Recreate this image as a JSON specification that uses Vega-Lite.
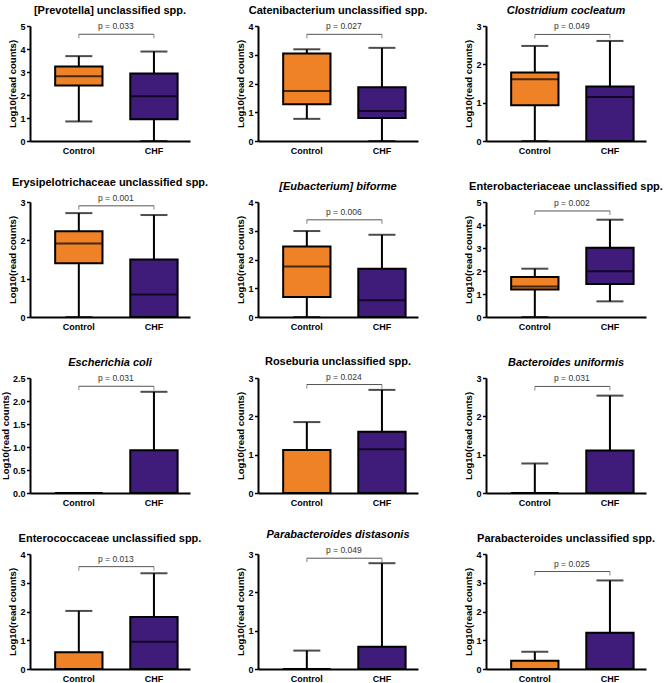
{
"$schema":"https://vega.github.io/schema/vega-lite/v6.json",
"background":"white",
"padding":{"left":0,"top":5,"right":0,"bottom":2},
"datasets":{
"s":[
{"panel":"P1","group":"Control","lo":0.85,"q1":2.41,"med":2.82,"q3":3.24,"hi":3.69},
{"panel":"P1","group":"CHF","lo":0,"q1":0.95,"med":1.95,"q3":2.94,"hi":3.89},
{"panel":"P2","group":"Control","lo":0.77,"q1":1.28,"med":1.74,"q3":3.04,"hi":3.19},
{"panel":"P2","group":"CHF","lo":0,"q1":0.8,"med":1.04,"q3":1.87,"hi":3.24},
{"panel":"P3","group":"Control","lo":0,"q1":0.93,"med":1.61,"q3":1.79,"hi":2.48},
{"panel":"P3","group":"CHF","lo":0,"q1":0,"med":1.15,"q3":1.42,"hi":2.61},
{"panel":"P4","group":"Control","lo":0,"q1":1.4,"med":1.92,"q3":2.24,"hi":2.71},
{"panel":"P4","group":"CHF","lo":0,"q1":0,"med":0.59,"q3":1.5,"hi":2.66},
{"panel":"P5","group":"Control","lo":0,"q1":0.7,"med":1.76,"q3":2.45,"hi":2.99},
{"panel":"P5","group":"CHF","lo":0,"q1":0,"med":0.58,"q3":1.68,"hi":2.86},
{"panel":"P6","group":"Control","lo":0,"q1":1.2,"med":1.33,"q3":1.74,"hi":2.1},
{"panel":"P6","group":"CHF","lo":0.68,"q1":1.43,"med":1.99,"q3":3.01,"hi":4.23},
{"panel":"P7","group":"Control","lo":0,"q1":0,"med":0,"q3":0,"hi":0},
{"panel":"P7","group":"CHF","lo":0,"q1":0,"med":0,"q3":0.93,"hi":2.2},
{"panel":"P8","group":"Control","lo":0,"q1":0,"med":0,"q3":1.12,"hi":1.85},
{"panel":"P8","group":"CHF","lo":0,"q1":0,"med":1.14,"q3":1.6,"hi":2.69},
{"panel":"P9","group":"Control","lo":0,"q1":0,"med":0,"q3":0,"hi":0.77},
{"panel":"P9","group":"CHF","lo":0,"q1":0,"med":0,"q3":1.11,"hi":2.54},
{"panel":"P10","group":"Control","lo":0,"q1":0,"med":0,"q3":0.58,"hi":2.02},
{"panel":"P10","group":"CHF","lo":0,"q1":0,"med":0.95,"q3":1.81,"hi":3.33},
{"panel":"P11","group":"Control","lo":0,"q1":0,"med":0,"q3":0,"hi":0.48},
{"panel":"P11","group":"CHF","lo":0,"q1":0,"med":0,"q3":0.58,"hi":2.76},
{"panel":"P12","group":"Control","lo":0,"q1":0,"med":0,"q3":0.29,"hi":0.6},
{"panel":"P12","group":"CHF","lo":0,"q1":0,"med":0,"q3":1.26,"hi":3.08}
],
"b":[
{"panel":"P1","p":"p = 0.033","y":4.64,"g1":"Control","g2":"CHF"},
{"panel":"P2","p":"p = 0.027","y":3.71,"g1":"Control","g2":"CHF"},
{"panel":"P3","p":"p = 0.049","y":2.78,"g1":"Control","g2":"CHF"},
{"panel":"P4","p":"p = 0.001","y":2.9,"g1":"Control","g2":"CHF"},
{"panel":"P5","p":"p = 0.006","y":3.38,"g1":"Control","g2":"CHF"},
{"panel":"P6","p":"p = 0.002","y":4.61,"g1":"Control","g2":"CHF"},
{"panel":"P7","p":"p = 0.031","y":2.32,"g1":"Control","g2":"CHF"},
{"panel":"P8","p":"p = 0.024","y":2.83,"g1":"Control","g2":"CHF"},
{"panel":"P9","p":"p = 0.031","y":2.78,"g1":"Control","g2":"CHF"},
{"panel":"P10","p":"p = 0.013","y":3.56,"g1":"Control","g2":"CHF"},
{"panel":"P11","p":"p = 0.049","y":2.89,"g1":"Control","g2":"CHF"},
{"panel":"P12","p":"p = 0.025","y":3.39,"g1":"Control","g2":"CHF"}
]
},
"columns":3,
"spacing":{"row":61,"column":68},
"bounds":"flush",
"resolve":{"scale":{"y":"independent","x":"independent"}},
"config":{
"font":"Liberation Sans",
"view":{"stroke":null},
"title":{"fontSize":11,"fontWeight":"bold","font":"Liberation Sans","color":"black","offset":6,"anchor":"middle"},
"axisY":{"domainColor":"black","domainWidth":2,"tickColor":"black","tickWidth":1.5,"tickSize":3.5,"labelFont":"Liberation Sans","labelFontWeight":"bold","labelFontSize":9,"labelColor":"black","labelOverlap":false,"titleFont":"Liberation Sans","titleFontSize":9.5,"titleFontWeight":"bold","titleColor":"black","titlePadding":2,"grid":false,"labelPadding":1.5},
"axisX":{"domainColor":"black","domainWidth":2,"ticks":false,"labelFont":"Liberation Sans","labelFontWeight":"bold","labelFontSize":9,"labelColor":"black","labelAngle":0,"labelPadding":5,"grid":false}
},
"concat":[
{"title":{"text":"[Prevotella] unclassified spp.","fontStyle":"normal"},"width":160,"height":115,"layer":[
{"data":{"name":"s"},"transform":[{"filter":"datum.panel=='P1'"}],"mark":{"type":"rule","color":"black","strokeWidth":2},"encoding":{"x":{"field":"group","type":"nominal","title":null,"scale":{"domain":["Control","CHF"],"paddingInner":0.37,"paddingOuter":0.25,"align":0.67}},"y":{"field":"lo","type":"quantitative","title":"Log10(read counts)","scale":{"domain":[0,5]},"axis":{"values":[0,1,2,3,4,5]}},"y2":{"field":"hi"}}},
{"data":{"name":"s"},"transform":[{"filter":"datum.panel=='P1'"},{"fold":["lo","hi"],"as":["k","v"]}],"mark":{"type":"tick","color":"black","thickness":2,"size":27},"encoding":{"x":{"field":"group","type":"nominal","title":null},"y":{"field":"v","type":"quantitative","title":"Log10(read counts)","scale":{"domain":[0,5]},"axis":{"values":[0,1,2,3,4,5]}}}},
{"data":{"name":"s"},"transform":[{"filter":"datum.panel=='P1'"}],"mark":{"type":"bar","stroke":"black","strokeWidth":2},"encoding":{"x":{"field":"group","type":"nominal","title":null},"y":{"field":"q1","type":"quantitative","title":"Log10(read counts)","scale":{"domain":[0,5]},"axis":{"values":[0,1,2,3,4,5]}},"y2":{"field":"q3"},"color":{"field":"group","type":"nominal","scale":{"domain":["Control","CHF"],"range":["#EF8227","#3F1B7A"]},"legend":null}}},
{"data":{"name":"s"},"transform":[{"filter":"datum.panel=='P1'"}],"mark":{"type":"tick","color":"black","thickness":2,"size":48},"encoding":{"x":{"field":"group","type":"nominal","title":null},"y":{"field":"med","type":"quantitative","title":"Log10(read counts)","scale":{"domain":[0,5]},"axis":{"values":[0,1,2,3,4,5]}}}},
{"data":{"name":"b"},"transform":[{"filter":"datum.panel=='P1'"}],"mark":{"type":"rule","color":"#555555","strokeWidth":1},"encoding":{"x":{"field":"g1","type":"nominal","title":null,"bandPosition":0.5},"x2":{"field":"g2","bandPosition":0.5},"y":{"field":"y","type":"quantitative","title":"Log10(read counts)","scale":{"domain":[0,5]},"axis":{"values":[0,1,2,3,4,5]}}}},
{"data":{"name":"b"},"transform":[{"filter":"datum.panel=='P1'"},{"fold":["g1","g2"],"as":["k","gx"]}],"mark":{"type":"tick","orient":"vertical","color":"#555555","thickness":1,"size":4,"yOffset":2},"encoding":{"x":{"field":"gx","type":"nominal","title":null},"y":{"field":"y","type":"quantitative","title":"Log10(read counts)","scale":{"domain":[0,5]},"axis":{"values":[0,1,2,3,4,5]}}}},
{"data":{"name":"b"},"transform":[{"filter":"datum.panel=='P1'"}],"mark":{"type":"text","fontSize":8.5,"color":"#333333","baseline":"bottom","dy":-3,"xOffset":37},"encoding":{"x":{"field":"g1","type":"nominal","title":null},"y":{"field":"y","type":"quantitative","title":"Log10(read counts)","scale":{"domain":[0,5]},"axis":{"values":[0,1,2,3,4,5]}},"text":{"field":"p"}}}
]},
{"title":{"text":"Catenibacterium unclassified spp.","fontStyle":"normal"},"width":160,"height":115,"layer":[
{"data":{"name":"s"},"transform":[{"filter":"datum.panel=='P2'"}],"mark":{"type":"rule","color":"black","strokeWidth":2},"encoding":{"x":{"field":"group","type":"nominal","title":null,"scale":{"domain":["Control","CHF"],"paddingInner":0.37,"paddingOuter":0.25,"align":0.67}},"y":{"field":"lo","type":"quantitative","title":"Log10(read counts)","scale":{"domain":[0,4]},"axis":{"values":[0,1,2,3,4]}},"y2":{"field":"hi"}}},
{"data":{"name":"s"},"transform":[{"filter":"datum.panel=='P2'"},{"fold":["lo","hi"],"as":["k","v"]}],"mark":{"type":"tick","color":"black","thickness":2,"size":27},"encoding":{"x":{"field":"group","type":"nominal","title":null},"y":{"field":"v","type":"quantitative","title":"Log10(read counts)","scale":{"domain":[0,4]},"axis":{"values":[0,1,2,3,4]}}}},
{"data":{"name":"s"},"transform":[{"filter":"datum.panel=='P2'"}],"mark":{"type":"bar","stroke":"black","strokeWidth":2},"encoding":{"x":{"field":"group","type":"nominal","title":null},"y":{"field":"q1","type":"quantitative","title":"Log10(read counts)","scale":{"domain":[0,4]},"axis":{"values":[0,1,2,3,4]}},"y2":{"field":"q3"},"color":{"field":"group","type":"nominal","scale":{"domain":["Control","CHF"],"range":["#EF8227","#3F1B7A"]},"legend":null}}},
{"data":{"name":"s"},"transform":[{"filter":"datum.panel=='P2'"}],"mark":{"type":"tick","color":"black","thickness":2,"size":48},"encoding":{"x":{"field":"group","type":"nominal","title":null},"y":{"field":"med","type":"quantitative","title":"Log10(read counts)","scale":{"domain":[0,4]},"axis":{"values":[0,1,2,3,4]}}}},
{"data":{"name":"b"},"transform":[{"filter":"datum.panel=='P2'"}],"mark":{"type":"rule","color":"#555555","strokeWidth":1},"encoding":{"x":{"field":"g1","type":"nominal","title":null,"bandPosition":0.5},"x2":{"field":"g2","bandPosition":0.5},"y":{"field":"y","type":"quantitative","title":"Log10(read counts)","scale":{"domain":[0,4]},"axis":{"values":[0,1,2,3,4]}}}},
{"data":{"name":"b"},"transform":[{"filter":"datum.panel=='P2'"},{"fold":["g1","g2"],"as":["k","gx"]}],"mark":{"type":"tick","orient":"vertical","color":"#555555","thickness":1,"size":4,"yOffset":2},"encoding":{"x":{"field":"gx","type":"nominal","title":null},"y":{"field":"y","type":"quantitative","title":"Log10(read counts)","scale":{"domain":[0,4]},"axis":{"values":[0,1,2,3,4]}}}},
{"data":{"name":"b"},"transform":[{"filter":"datum.panel=='P2'"}],"mark":{"type":"text","fontSize":8.5,"color":"#333333","baseline":"bottom","dy":-3,"xOffset":37},"encoding":{"x":{"field":"g1","type":"nominal","title":null},"y":{"field":"y","type":"quantitative","title":"Log10(read counts)","scale":{"domain":[0,4]},"axis":{"values":[0,1,2,3,4]}},"text":{"field":"p"}}}
]},
{"title":{"text":"Clostridium cocleatum","fontStyle":"italic"},"width":160,"height":115,"layer":[
{"data":{"name":"s"},"transform":[{"filter":"datum.panel=='P3'"}],"mark":{"type":"rule","color":"black","strokeWidth":2},"encoding":{"x":{"field":"group","type":"nominal","title":null,"scale":{"domain":["Control","CHF"],"paddingInner":0.37,"paddingOuter":0.25,"align":0.67}},"y":{"field":"lo","type":"quantitative","title":"Log10(read counts)","scale":{"domain":[0,3]},"axis":{"values":[0,1,2,3]}},"y2":{"field":"hi"}}},
{"data":{"name":"s"},"transform":[{"filter":"datum.panel=='P3'"},{"fold":["lo","hi"],"as":["k","v"]}],"mark":{"type":"tick","color":"black","thickness":2,"size":27},"encoding":{"x":{"field":"group","type":"nominal","title":null},"y":{"field":"v","type":"quantitative","title":"Log10(read counts)","scale":{"domain":[0,3]},"axis":{"values":[0,1,2,3]}}}},
{"data":{"name":"s"},"transform":[{"filter":"datum.panel=='P3'"}],"mark":{"type":"bar","stroke":"black","strokeWidth":2},"encoding":{"x":{"field":"group","type":"nominal","title":null},"y":{"field":"q1","type":"quantitative","title":"Log10(read counts)","scale":{"domain":[0,3]},"axis":{"values":[0,1,2,3]}},"y2":{"field":"q3"},"color":{"field":"group","type":"nominal","scale":{"domain":["Control","CHF"],"range":["#EF8227","#3F1B7A"]},"legend":null}}},
{"data":{"name":"s"},"transform":[{"filter":"datum.panel=='P3'"}],"mark":{"type":"tick","color":"black","thickness":2,"size":48},"encoding":{"x":{"field":"group","type":"nominal","title":null},"y":{"field":"med","type":"quantitative","title":"Log10(read counts)","scale":{"domain":[0,3]},"axis":{"values":[0,1,2,3]}}}},
{"data":{"name":"b"},"transform":[{"filter":"datum.panel=='P3'"}],"mark":{"type":"rule","color":"#555555","strokeWidth":1},"encoding":{"x":{"field":"g1","type":"nominal","title":null,"bandPosition":0.5},"x2":{"field":"g2","bandPosition":0.5},"y":{"field":"y","type":"quantitative","title":"Log10(read counts)","scale":{"domain":[0,3]},"axis":{"values":[0,1,2,3]}}}},
{"data":{"name":"b"},"transform":[{"filter":"datum.panel=='P3'"},{"fold":["g1","g2"],"as":["k","gx"]}],"mark":{"type":"tick","orient":"vertical","color":"#555555","thickness":1,"size":4,"yOffset":2},"encoding":{"x":{"field":"gx","type":"nominal","title":null},"y":{"field":"y","type":"quantitative","title":"Log10(read counts)","scale":{"domain":[0,3]},"axis":{"values":[0,1,2,3]}}}},
{"data":{"name":"b"},"transform":[{"filter":"datum.panel=='P3'"}],"mark":{"type":"text","fontSize":8.5,"color":"#333333","baseline":"bottom","dy":-3,"xOffset":37},"encoding":{"x":{"field":"g1","type":"nominal","title":null},"y":{"field":"y","type":"quantitative","title":"Log10(read counts)","scale":{"domain":[0,3]},"axis":{"values":[0,1,2,3]}},"text":{"field":"p"}}}
]},
{"title":{"text":"Erysipelotrichaceae unclassified spp.","fontStyle":"normal"},"width":160,"height":115,"layer":[
{"data":{"name":"s"},"transform":[{"filter":"datum.panel=='P4'"}],"mark":{"type":"rule","color":"black","strokeWidth":2},"encoding":{"x":{"field":"group","type":"nominal","title":null,"scale":{"domain":["Control","CHF"],"paddingInner":0.37,"paddingOuter":0.25,"align":0.67}},"y":{"field":"lo","type":"quantitative","title":"Log10(read counts)","scale":{"domain":[0,3]},"axis":{"values":[0,1,2,3]}},"y2":{"field":"hi"}}},
{"data":{"name":"s"},"transform":[{"filter":"datum.panel=='P4'"},{"fold":["lo","hi"],"as":["k","v"]}],"mark":{"type":"tick","color":"black","thickness":2,"size":27},"encoding":{"x":{"field":"group","type":"nominal","title":null},"y":{"field":"v","type":"quantitative","title":"Log10(read counts)","scale":{"domain":[0,3]},"axis":{"values":[0,1,2,3]}}}},
{"data":{"name":"s"},"transform":[{"filter":"datum.panel=='P4'"}],"mark":{"type":"bar","stroke":"black","strokeWidth":2},"encoding":{"x":{"field":"group","type":"nominal","title":null},"y":{"field":"q1","type":"quantitative","title":"Log10(read counts)","scale":{"domain":[0,3]},"axis":{"values":[0,1,2,3]}},"y2":{"field":"q3"},"color":{"field":"group","type":"nominal","scale":{"domain":["Control","CHF"],"range":["#EF8227","#3F1B7A"]},"legend":null}}},
{"data":{"name":"s"},"transform":[{"filter":"datum.panel=='P4'"}],"mark":{"type":"tick","color":"black","thickness":2,"size":48},"encoding":{"x":{"field":"group","type":"nominal","title":null},"y":{"field":"med","type":"quantitative","title":"Log10(read counts)","scale":{"domain":[0,3]},"axis":{"values":[0,1,2,3]}}}},
{"data":{"name":"b"},"transform":[{"filter":"datum.panel=='P4'"}],"mark":{"type":"rule","color":"#555555","strokeWidth":1},"encoding":{"x":{"field":"g1","type":"nominal","title":null,"bandPosition":0.5},"x2":{"field":"g2","bandPosition":0.5},"y":{"field":"y","type":"quantitative","title":"Log10(read counts)","scale":{"domain":[0,3]},"axis":{"values":[0,1,2,3]}}}},
{"data":{"name":"b"},"transform":[{"filter":"datum.panel=='P4'"},{"fold":["g1","g2"],"as":["k","gx"]}],"mark":{"type":"tick","orient":"vertical","color":"#555555","thickness":1,"size":4,"yOffset":2},"encoding":{"x":{"field":"gx","type":"nominal","title":null},"y":{"field":"y","type":"quantitative","title":"Log10(read counts)","scale":{"domain":[0,3]},"axis":{"values":[0,1,2,3]}}}},
{"data":{"name":"b"},"transform":[{"filter":"datum.panel=='P4'"}],"mark":{"type":"text","fontSize":8.5,"color":"#333333","baseline":"bottom","dy":-3,"xOffset":37},"encoding":{"x":{"field":"g1","type":"nominal","title":null},"y":{"field":"y","type":"quantitative","title":"Log10(read counts)","scale":{"domain":[0,3]},"axis":{"values":[0,1,2,3]}},"text":{"field":"p"}}}
]},
{"title":{"text":"[Eubacterium] biforme","fontStyle":"italic"},"width":160,"height":115,"layer":[
{"data":{"name":"s"},"transform":[{"filter":"datum.panel=='P5'"}],"mark":{"type":"rule","color":"black","strokeWidth":2},"encoding":{"x":{"field":"group","type":"nominal","title":null,"scale":{"domain":["Control","CHF"],"paddingInner":0.37,"paddingOuter":0.25,"align":0.67}},"y":{"field":"lo","type":"quantitative","title":"Log10(read counts)","scale":{"domain":[0,4]},"axis":{"values":[0,1,2,3,4]}},"y2":{"field":"hi"}}},
{"data":{"name":"s"},"transform":[{"filter":"datum.panel=='P5'"},{"fold":["lo","hi"],"as":["k","v"]}],"mark":{"type":"tick","color":"black","thickness":2,"size":27},"encoding":{"x":{"field":"group","type":"nominal","title":null},"y":{"field":"v","type":"quantitative","title":"Log10(read counts)","scale":{"domain":[0,4]},"axis":{"values":[0,1,2,3,4]}}}},
{"data":{"name":"s"},"transform":[{"filter":"datum.panel=='P5'"}],"mark":{"type":"bar","stroke":"black","strokeWidth":2},"encoding":{"x":{"field":"group","type":"nominal","title":null},"y":{"field":"q1","type":"quantitative","title":"Log10(read counts)","scale":{"domain":[0,4]},"axis":{"values":[0,1,2,3,4]}},"y2":{"field":"q3"},"color":{"field":"group","type":"nominal","scale":{"domain":["Control","CHF"],"range":["#EF8227","#3F1B7A"]},"legend":null}}},
{"data":{"name":"s"},"transform":[{"filter":"datum.panel=='P5'"}],"mark":{"type":"tick","color":"black","thickness":2,"size":48},"encoding":{"x":{"field":"group","type":"nominal","title":null},"y":{"field":"med","type":"quantitative","title":"Log10(read counts)","scale":{"domain":[0,4]},"axis":{"values":[0,1,2,3,4]}}}},
{"data":{"name":"b"},"transform":[{"filter":"datum.panel=='P5'"}],"mark":{"type":"rule","color":"#555555","strokeWidth":1},"encoding":{"x":{"field":"g1","type":"nominal","title":null,"bandPosition":0.5},"x2":{"field":"g2","bandPosition":0.5},"y":{"field":"y","type":"quantitative","title":"Log10(read counts)","scale":{"domain":[0,4]},"axis":{"values":[0,1,2,3,4]}}}},
{"data":{"name":"b"},"transform":[{"filter":"datum.panel=='P5'"},{"fold":["g1","g2"],"as":["k","gx"]}],"mark":{"type":"tick","orient":"vertical","color":"#555555","thickness":1,"size":4,"yOffset":2},"encoding":{"x":{"field":"gx","type":"nominal","title":null},"y":{"field":"y","type":"quantitative","title":"Log10(read counts)","scale":{"domain":[0,4]},"axis":{"values":[0,1,2,3,4]}}}},
{"data":{"name":"b"},"transform":[{"filter":"datum.panel=='P5'"}],"mark":{"type":"text","fontSize":8.5,"color":"#333333","baseline":"bottom","dy":-3,"xOffset":37},"encoding":{"x":{"field":"g1","type":"nominal","title":null},"y":{"field":"y","type":"quantitative","title":"Log10(read counts)","scale":{"domain":[0,4]},"axis":{"values":[0,1,2,3,4]}},"text":{"field":"p"}}}
]},
{"title":{"text":"Enterobacteriaceae unclassified spp.","fontStyle":"normal"},"width":160,"height":115,"layer":[
{"data":{"name":"s"},"transform":[{"filter":"datum.panel=='P6'"}],"mark":{"type":"rule","color":"black","strokeWidth":2},"encoding":{"x":{"field":"group","type":"nominal","title":null,"scale":{"domain":["Control","CHF"],"paddingInner":0.37,"paddingOuter":0.25,"align":0.67}},"y":{"field":"lo","type":"quantitative","title":"Log10(read counts)","scale":{"domain":[0,5]},"axis":{"values":[0,1,2,3,4,5]}},"y2":{"field":"hi"}}},
{"data":{"name":"s"},"transform":[{"filter":"datum.panel=='P6'"},{"fold":["lo","hi"],"as":["k","v"]}],"mark":{"type":"tick","color":"black","thickness":2,"size":27},"encoding":{"x":{"field":"group","type":"nominal","title":null},"y":{"field":"v","type":"quantitative","title":"Log10(read counts)","scale":{"domain":[0,5]},"axis":{"values":[0,1,2,3,4,5]}}}},
{"data":{"name":"s"},"transform":[{"filter":"datum.panel=='P6'"}],"mark":{"type":"bar","stroke":"black","strokeWidth":2},"encoding":{"x":{"field":"group","type":"nominal","title":null},"y":{"field":"q1","type":"quantitative","title":"Log10(read counts)","scale":{"domain":[0,5]},"axis":{"values":[0,1,2,3,4,5]}},"y2":{"field":"q3"},"color":{"field":"group","type":"nominal","scale":{"domain":["Control","CHF"],"range":["#EF8227","#3F1B7A"]},"legend":null}}},
{"data":{"name":"s"},"transform":[{"filter":"datum.panel=='P6'"}],"mark":{"type":"tick","color":"black","thickness":2,"size":48},"encoding":{"x":{"field":"group","type":"nominal","title":null},"y":{"field":"med","type":"quantitative","title":"Log10(read counts)","scale":{"domain":[0,5]},"axis":{"values":[0,1,2,3,4,5]}}}},
{"data":{"name":"b"},"transform":[{"filter":"datum.panel=='P6'"}],"mark":{"type":"rule","color":"#555555","strokeWidth":1},"encoding":{"x":{"field":"g1","type":"nominal","title":null,"bandPosition":0.5},"x2":{"field":"g2","bandPosition":0.5},"y":{"field":"y","type":"quantitative","title":"Log10(read counts)","scale":{"domain":[0,5]},"axis":{"values":[0,1,2,3,4,5]}}}},
{"data":{"name":"b"},"transform":[{"filter":"datum.panel=='P6'"},{"fold":["g1","g2"],"as":["k","gx"]}],"mark":{"type":"tick","orient":"vertical","color":"#555555","thickness":1,"size":4,"yOffset":2},"encoding":{"x":{"field":"gx","type":"nominal","title":null},"y":{"field":"y","type":"quantitative","title":"Log10(read counts)","scale":{"domain":[0,5]},"axis":{"values":[0,1,2,3,4,5]}}}},
{"data":{"name":"b"},"transform":[{"filter":"datum.panel=='P6'"}],"mark":{"type":"text","fontSize":8.5,"color":"#333333","baseline":"bottom","dy":-3,"xOffset":37},"encoding":{"x":{"field":"g1","type":"nominal","title":null},"y":{"field":"y","type":"quantitative","title":"Log10(read counts)","scale":{"domain":[0,5]},"axis":{"values":[0,1,2,3,4,5]}},"text":{"field":"p"}}}
]},
{"title":{"text":"Escherichia coli","fontStyle":"italic"},"width":160,"height":115,"layer":[
{"data":{"name":"s"},"transform":[{"filter":"datum.panel=='P7'"}],"mark":{"type":"rule","color":"black","strokeWidth":2},"encoding":{"x":{"field":"group","type":"nominal","title":null,"scale":{"domain":["Control","CHF"],"paddingInner":0.37,"paddingOuter":0.25,"align":0.67}},"y":{"field":"lo","type":"quantitative","title":"Log10(read counts)","scale":{"domain":[0,2.5]},"axis":{"values":[0,0.5,1,1.5,2,2.5],"format":".1f"}},"y2":{"field":"hi"}}},
{"data":{"name":"s"},"transform":[{"filter":"datum.panel=='P7'"},{"fold":["lo","hi"],"as":["k","v"]}],"mark":{"type":"tick","color":"black","thickness":2,"size":27},"encoding":{"x":{"field":"group","type":"nominal","title":null},"y":{"field":"v","type":"quantitative","title":"Log10(read counts)","scale":{"domain":[0,2.5]},"axis":{"values":[0,0.5,1,1.5,2,2.5],"format":".1f"}}}},
{"data":{"name":"s"},"transform":[{"filter":"datum.panel=='P7'"}],"mark":{"type":"bar","stroke":"black","strokeWidth":2},"encoding":{"x":{"field":"group","type":"nominal","title":null},"y":{"field":"q1","type":"quantitative","title":"Log10(read counts)","scale":{"domain":[0,2.5]},"axis":{"values":[0,0.5,1,1.5,2,2.5],"format":".1f"}},"y2":{"field":"q3"},"color":{"field":"group","type":"nominal","scale":{"domain":["Control","CHF"],"range":["#EF8227","#3F1B7A"]},"legend":null}}},
{"data":{"name":"s"},"transform":[{"filter":"datum.panel=='P7'"}],"mark":{"type":"tick","color":"black","thickness":2,"size":48},"encoding":{"x":{"field":"group","type":"nominal","title":null},"y":{"field":"med","type":"quantitative","title":"Log10(read counts)","scale":{"domain":[0,2.5]},"axis":{"values":[0,0.5,1,1.5,2,2.5],"format":".1f"}}}},
{"data":{"name":"b"},"transform":[{"filter":"datum.panel=='P7'"}],"mark":{"type":"rule","color":"#555555","strokeWidth":1},"encoding":{"x":{"field":"g1","type":"nominal","title":null,"bandPosition":0.5},"x2":{"field":"g2","bandPosition":0.5},"y":{"field":"y","type":"quantitative","title":"Log10(read counts)","scale":{"domain":[0,2.5]},"axis":{"values":[0,0.5,1,1.5,2,2.5],"format":".1f"}}}},
{"data":{"name":"b"},"transform":[{"filter":"datum.panel=='P7'"},{"fold":["g1","g2"],"as":["k","gx"]}],"mark":{"type":"tick","orient":"vertical","color":"#555555","thickness":1,"size":4,"yOffset":2},"encoding":{"x":{"field":"gx","type":"nominal","title":null},"y":{"field":"y","type":"quantitative","title":"Log10(read counts)","scale":{"domain":[0,2.5]},"axis":{"values":[0,0.5,1,1.5,2,2.5],"format":".1f"}}}},
{"data":{"name":"b"},"transform":[{"filter":"datum.panel=='P7'"}],"mark":{"type":"text","fontSize":8.5,"color":"#333333","baseline":"bottom","dy":-3,"xOffset":37},"encoding":{"x":{"field":"g1","type":"nominal","title":null},"y":{"field":"y","type":"quantitative","title":"Log10(read counts)","scale":{"domain":[0,2.5]},"axis":{"values":[0,0.5,1,1.5,2,2.5],"format":".1f"}},"text":{"field":"p"}}}
]},
{"title":{"text":"Roseburia unclassified spp.","fontStyle":"normal"},"width":160,"height":115,"layer":[
{"data":{"name":"s"},"transform":[{"filter":"datum.panel=='P8'"}],"mark":{"type":"rule","color":"black","strokeWidth":2},"encoding":{"x":{"field":"group","type":"nominal","title":null,"scale":{"domain":["Control","CHF"],"paddingInner":0.37,"paddingOuter":0.25,"align":0.67}},"y":{"field":"lo","type":"quantitative","title":"Log10(read counts)","scale":{"domain":[0,3]},"axis":{"values":[0,1,2,3]}},"y2":{"field":"hi"}}},
{"data":{"name":"s"},"transform":[{"filter":"datum.panel=='P8'"},{"fold":["lo","hi"],"as":["k","v"]}],"mark":{"type":"tick","color":"black","thickness":2,"size":27},"encoding":{"x":{"field":"group","type":"nominal","title":null},"y":{"field":"v","type":"quantitative","title":"Log10(read counts)","scale":{"domain":[0,3]},"axis":{"values":[0,1,2,3]}}}},
{"data":{"name":"s"},"transform":[{"filter":"datum.panel=='P8'"}],"mark":{"type":"bar","stroke":"black","strokeWidth":2},"encoding":{"x":{"field":"group","type":"nominal","title":null},"y":{"field":"q1","type":"quantitative","title":"Log10(read counts)","scale":{"domain":[0,3]},"axis":{"values":[0,1,2,3]}},"y2":{"field":"q3"},"color":{"field":"group","type":"nominal","scale":{"domain":["Control","CHF"],"range":["#EF8227","#3F1B7A"]},"legend":null}}},
{"data":{"name":"s"},"transform":[{"filter":"datum.panel=='P8'"}],"mark":{"type":"tick","color":"black","thickness":2,"size":48},"encoding":{"x":{"field":"group","type":"nominal","title":null},"y":{"field":"med","type":"quantitative","title":"Log10(read counts)","scale":{"domain":[0,3]},"axis":{"values":[0,1,2,3]}}}},
{"data":{"name":"b"},"transform":[{"filter":"datum.panel=='P8'"}],"mark":{"type":"rule","color":"#555555","strokeWidth":1},"encoding":{"x":{"field":"g1","type":"nominal","title":null,"bandPosition":0.5},"x2":{"field":"g2","bandPosition":0.5},"y":{"field":"y","type":"quantitative","title":"Log10(read counts)","scale":{"domain":[0,3]},"axis":{"values":[0,1,2,3]}}}},
{"data":{"name":"b"},"transform":[{"filter":"datum.panel=='P8'"},{"fold":["g1","g2"],"as":["k","gx"]}],"mark":{"type":"tick","orient":"vertical","color":"#555555","thickness":1,"size":4,"yOffset":2},"encoding":{"x":{"field":"gx","type":"nominal","title":null},"y":{"field":"y","type":"quantitative","title":"Log10(read counts)","scale":{"domain":[0,3]},"axis":{"values":[0,1,2,3]}}}},
{"data":{"name":"b"},"transform":[{"filter":"datum.panel=='P8'"}],"mark":{"type":"text","fontSize":8.5,"color":"#333333","baseline":"bottom","dy":-3,"xOffset":37},"encoding":{"x":{"field":"g1","type":"nominal","title":null},"y":{"field":"y","type":"quantitative","title":"Log10(read counts)","scale":{"domain":[0,3]},"axis":{"values":[0,1,2,3]}},"text":{"field":"p"}}}
]},
{"title":{"text":"Bacteroides uniformis","fontStyle":"italic"},"width":160,"height":115,"layer":[
{"data":{"name":"s"},"transform":[{"filter":"datum.panel=='P9'"}],"mark":{"type":"rule","color":"black","strokeWidth":2},"encoding":{"x":{"field":"group","type":"nominal","title":null,"scale":{"domain":["Control","CHF"],"paddingInner":0.37,"paddingOuter":0.25,"align":0.67}},"y":{"field":"lo","type":"quantitative","title":"Log10(read counts)","scale":{"domain":[0,3]},"axis":{"values":[0,1,2,3]}},"y2":{"field":"hi"}}},
{"data":{"name":"s"},"transform":[{"filter":"datum.panel=='P9'"},{"fold":["lo","hi"],"as":["k","v"]}],"mark":{"type":"tick","color":"black","thickness":2,"size":27},"encoding":{"x":{"field":"group","type":"nominal","title":null},"y":{"field":"v","type":"quantitative","title":"Log10(read counts)","scale":{"domain":[0,3]},"axis":{"values":[0,1,2,3]}}}},
{"data":{"name":"s"},"transform":[{"filter":"datum.panel=='P9'"}],"mark":{"type":"bar","stroke":"black","strokeWidth":2},"encoding":{"x":{"field":"group","type":"nominal","title":null},"y":{"field":"q1","type":"quantitative","title":"Log10(read counts)","scale":{"domain":[0,3]},"axis":{"values":[0,1,2,3]}},"y2":{"field":"q3"},"color":{"field":"group","type":"nominal","scale":{"domain":["Control","CHF"],"range":["#EF8227","#3F1B7A"]},"legend":null}}},
{"data":{"name":"s"},"transform":[{"filter":"datum.panel=='P9'"}],"mark":{"type":"tick","color":"black","thickness":2,"size":48},"encoding":{"x":{"field":"group","type":"nominal","title":null},"y":{"field":"med","type":"quantitative","title":"Log10(read counts)","scale":{"domain":[0,3]},"axis":{"values":[0,1,2,3]}}}},
{"data":{"name":"b"},"transform":[{"filter":"datum.panel=='P9'"}],"mark":{"type":"rule","color":"#555555","strokeWidth":1},"encoding":{"x":{"field":"g1","type":"nominal","title":null,"bandPosition":0.5},"x2":{"field":"g2","bandPosition":0.5},"y":{"field":"y","type":"quantitative","title":"Log10(read counts)","scale":{"domain":[0,3]},"axis":{"values":[0,1,2,3]}}}},
{"data":{"name":"b"},"transform":[{"filter":"datum.panel=='P9'"},{"fold":["g1","g2"],"as":["k","gx"]}],"mark":{"type":"tick","orient":"vertical","color":"#555555","thickness":1,"size":4,"yOffset":2},"encoding":{"x":{"field":"gx","type":"nominal","title":null},"y":{"field":"y","type":"quantitative","title":"Log10(read counts)","scale":{"domain":[0,3]},"axis":{"values":[0,1,2,3]}}}},
{"data":{"name":"b"},"transform":[{"filter":"datum.panel=='P9'"}],"mark":{"type":"text","fontSize":8.5,"color":"#333333","baseline":"bottom","dy":-3,"xOffset":37},"encoding":{"x":{"field":"g1","type":"nominal","title":null},"y":{"field":"y","type":"quantitative","title":"Log10(read counts)","scale":{"domain":[0,3]},"axis":{"values":[0,1,2,3]}},"text":{"field":"p"}}}
]},
{"title":{"text":"Enterococcaceae unclassified spp.","fontStyle":"normal"},"width":160,"height":115,"layer":[
{"data":{"name":"s"},"transform":[{"filter":"datum.panel=='P10'"}],"mark":{"type":"rule","color":"black","strokeWidth":2},"encoding":{"x":{"field":"group","type":"nominal","title":null,"scale":{"domain":["Control","CHF"],"paddingInner":0.37,"paddingOuter":0.25,"align":0.67}},"y":{"field":"lo","type":"quantitative","title":"Log10(read counts)","scale":{"domain":[0,4]},"axis":{"values":[0,1,2,3,4]}},"y2":{"field":"hi"}}},
{"data":{"name":"s"},"transform":[{"filter":"datum.panel=='P10'"},{"fold":["lo","hi"],"as":["k","v"]}],"mark":{"type":"tick","color":"black","thickness":2,"size":27},"encoding":{"x":{"field":"group","type":"nominal","title":null},"y":{"field":"v","type":"quantitative","title":"Log10(read counts)","scale":{"domain":[0,4]},"axis":{"values":[0,1,2,3,4]}}}},
{"data":{"name":"s"},"transform":[{"filter":"datum.panel=='P10'"}],"mark":{"type":"bar","stroke":"black","strokeWidth":2},"encoding":{"x":{"field":"group","type":"nominal","title":null},"y":{"field":"q1","type":"quantitative","title":"Log10(read counts)","scale":{"domain":[0,4]},"axis":{"values":[0,1,2,3,4]}},"y2":{"field":"q3"},"color":{"field":"group","type":"nominal","scale":{"domain":["Control","CHF"],"range":["#EF8227","#3F1B7A"]},"legend":null}}},
{"data":{"name":"s"},"transform":[{"filter":"datum.panel=='P10'"}],"mark":{"type":"tick","color":"black","thickness":2,"size":48},"encoding":{"x":{"field":"group","type":"nominal","title":null},"y":{"field":"med","type":"quantitative","title":"Log10(read counts)","scale":{"domain":[0,4]},"axis":{"values":[0,1,2,3,4]}}}},
{"data":{"name":"b"},"transform":[{"filter":"datum.panel=='P10'"}],"mark":{"type":"rule","color":"#555555","strokeWidth":1},"encoding":{"x":{"field":"g1","type":"nominal","title":null,"bandPosition":0.5},"x2":{"field":"g2","bandPosition":0.5},"y":{"field":"y","type":"quantitative","title":"Log10(read counts)","scale":{"domain":[0,4]},"axis":{"values":[0,1,2,3,4]}}}},
{"data":{"name":"b"},"transform":[{"filter":"datum.panel=='P10'"},{"fold":["g1","g2"],"as":["k","gx"]}],"mark":{"type":"tick","orient":"vertical","color":"#555555","thickness":1,"size":4,"yOffset":2},"encoding":{"x":{"field":"gx","type":"nominal","title":null},"y":{"field":"y","type":"quantitative","title":"Log10(read counts)","scale":{"domain":[0,4]},"axis":{"values":[0,1,2,3,4]}}}},
{"data":{"name":"b"},"transform":[{"filter":"datum.panel=='P10'"}],"mark":{"type":"text","fontSize":8.5,"color":"#333333","baseline":"bottom","dy":-3,"xOffset":37},"encoding":{"x":{"field":"g1","type":"nominal","title":null},"y":{"field":"y","type":"quantitative","title":"Log10(read counts)","scale":{"domain":[0,4]},"axis":{"values":[0,1,2,3,4]}},"text":{"field":"p"}}}
]},
{"title":{"text":"Parabacteroides distasonis","fontStyle":"italic"},"width":160,"height":115,"layer":[
{"data":{"name":"s"},"transform":[{"filter":"datum.panel=='P11'"}],"mark":{"type":"rule","color":"black","strokeWidth":2},"encoding":{"x":{"field":"group","type":"nominal","title":null,"scale":{"domain":["Control","CHF"],"paddingInner":0.37,"paddingOuter":0.25,"align":0.67}},"y":{"field":"lo","type":"quantitative","title":"Log10(read counts)","scale":{"domain":[0,3]},"axis":{"values":[0,1,2,3]}},"y2":{"field":"hi"}}},
{"data":{"name":"s"},"transform":[{"filter":"datum.panel=='P11'"},{"fold":["lo","hi"],"as":["k","v"]}],"mark":{"type":"tick","color":"black","thickness":2,"size":27},"encoding":{"x":{"field":"group","type":"nominal","title":null},"y":{"field":"v","type":"quantitative","title":"Log10(read counts)","scale":{"domain":[0,3]},"axis":{"values":[0,1,2,3]}}}},
{"data":{"name":"s"},"transform":[{"filter":"datum.panel=='P11'"}],"mark":{"type":"bar","stroke":"black","strokeWidth":2},"encoding":{"x":{"field":"group","type":"nominal","title":null},"y":{"field":"q1","type":"quantitative","title":"Log10(read counts)","scale":{"domain":[0,3]},"axis":{"values":[0,1,2,3]}},"y2":{"field":"q3"},"color":{"field":"group","type":"nominal","scale":{"domain":["Control","CHF"],"range":["#EF8227","#3F1B7A"]},"legend":null}}},
{"data":{"name":"s"},"transform":[{"filter":"datum.panel=='P11'"}],"mark":{"type":"tick","color":"black","thickness":2,"size":48},"encoding":{"x":{"field":"group","type":"nominal","title":null},"y":{"field":"med","type":"quantitative","title":"Log10(read counts)","scale":{"domain":[0,3]},"axis":{"values":[0,1,2,3]}}}},
{"data":{"name":"b"},"transform":[{"filter":"datum.panel=='P11'"}],"mark":{"type":"rule","color":"#555555","strokeWidth":1},"encoding":{"x":{"field":"g1","type":"nominal","title":null,"bandPosition":0.5},"x2":{"field":"g2","bandPosition":0.5},"y":{"field":"y","type":"quantitative","title":"Log10(read counts)","scale":{"domain":[0,3]},"axis":{"values":[0,1,2,3]}}}},
{"data":{"name":"b"},"transform":[{"filter":"datum.panel=='P11'"},{"fold":["g1","g2"],"as":["k","gx"]}],"mark":{"type":"tick","orient":"vertical","color":"#555555","thickness":1,"size":4,"yOffset":2},"encoding":{"x":{"field":"gx","type":"nominal","title":null},"y":{"field":"y","type":"quantitative","title":"Log10(read counts)","scale":{"domain":[0,3]},"axis":{"values":[0,1,2,3]}}}},
{"data":{"name":"b"},"transform":[{"filter":"datum.panel=='P11'"}],"mark":{"type":"text","fontSize":8.5,"color":"#333333","baseline":"bottom","dy":-3,"xOffset":37},"encoding":{"x":{"field":"g1","type":"nominal","title":null},"y":{"field":"y","type":"quantitative","title":"Log10(read counts)","scale":{"domain":[0,3]},"axis":{"values":[0,1,2,3]}},"text":{"field":"p"}}}
]},
{"title":{"text":"Parabacteroides unclassified spp.","fontStyle":"normal"},"width":160,"height":115,"layer":[
{"data":{"name":"s"},"transform":[{"filter":"datum.panel=='P12'"}],"mark":{"type":"rule","color":"black","strokeWidth":2},"encoding":{"x":{"field":"group","type":"nominal","title":null,"scale":{"domain":["Control","CHF"],"paddingInner":0.37,"paddingOuter":0.25,"align":0.67}},"y":{"field":"lo","type":"quantitative","title":"Log10(read counts)","scale":{"domain":[0,4]},"axis":{"values":[0,1,2,3,4]}},"y2":{"field":"hi"}}},
{"data":{"name":"s"},"transform":[{"filter":"datum.panel=='P12'"},{"fold":["lo","hi"],"as":["k","v"]}],"mark":{"type":"tick","color":"black","thickness":2,"size":27},"encoding":{"x":{"field":"group","type":"nominal","title":null},"y":{"field":"v","type":"quantitative","title":"Log10(read counts)","scale":{"domain":[0,4]},"axis":{"values":[0,1,2,3,4]}}}},
{"data":{"name":"s"},"transform":[{"filter":"datum.panel=='P12'"}],"mark":{"type":"bar","stroke":"black","strokeWidth":2},"encoding":{"x":{"field":"group","type":"nominal","title":null},"y":{"field":"q1","type":"quantitative","title":"Log10(read counts)","scale":{"domain":[0,4]},"axis":{"values":[0,1,2,3,4]}},"y2":{"field":"q3"},"color":{"field":"group","type":"nominal","scale":{"domain":["Control","CHF"],"range":["#EF8227","#3F1B7A"]},"legend":null}}},
{"data":{"name":"s"},"transform":[{"filter":"datum.panel=='P12'"}],"mark":{"type":"tick","color":"black","thickness":2,"size":48},"encoding":{"x":{"field":"group","type":"nominal","title":null},"y":{"field":"med","type":"quantitative","title":"Log10(read counts)","scale":{"domain":[0,4]},"axis":{"values":[0,1,2,3,4]}}}},
{"data":{"name":"b"},"transform":[{"filter":"datum.panel=='P12'"}],"mark":{"type":"rule","color":"#555555","strokeWidth":1},"encoding":{"x":{"field":"g1","type":"nominal","title":null,"bandPosition":0.5},"x2":{"field":"g2","bandPosition":0.5},"y":{"field":"y","type":"quantitative","title":"Log10(read counts)","scale":{"domain":[0,4]},"axis":{"values":[0,1,2,3,4]}}}},
{"data":{"name":"b"},"transform":[{"filter":"datum.panel=='P12'"},{"fold":["g1","g2"],"as":["k","gx"]}],"mark":{"type":"tick","orient":"vertical","color":"#555555","thickness":1,"size":4,"yOffset":2},"encoding":{"x":{"field":"gx","type":"nominal","title":null},"y":{"field":"y","type":"quantitative","title":"Log10(read counts)","scale":{"domain":[0,4]},"axis":{"values":[0,1,2,3,4]}}}},
{"data":{"name":"b"},"transform":[{"filter":"datum.panel=='P12'"}],"mark":{"type":"text","fontSize":8.5,"color":"#333333","baseline":"bottom","dy":-3,"xOffset":37},"encoding":{"x":{"field":"g1","type":"nominal","title":null},"y":{"field":"y","type":"quantitative","title":"Log10(read counts)","scale":{"domain":[0,4]},"axis":{"values":[0,1,2,3,4]}},"text":{"field":"p"}}}
]}
]
}
